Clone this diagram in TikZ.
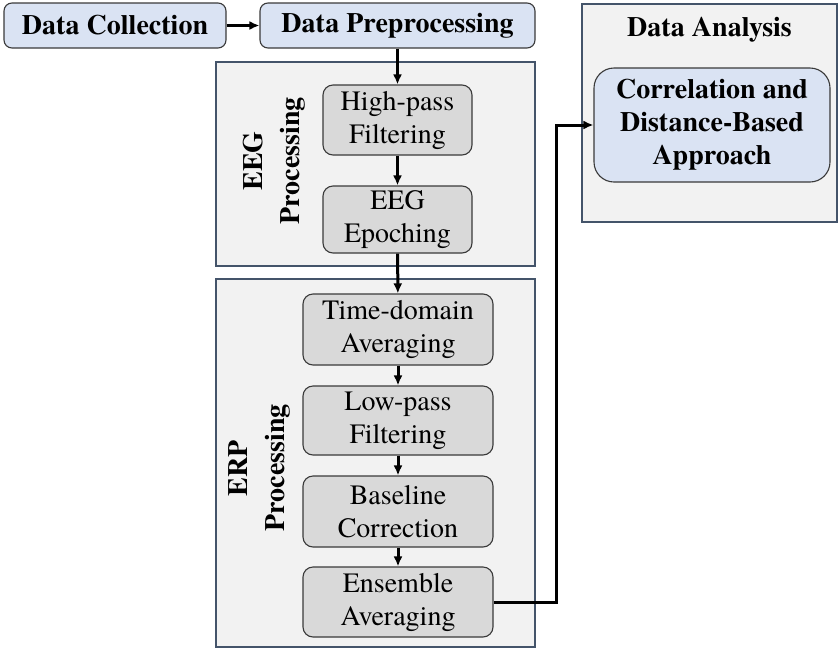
\documentclass[tikz,border=0pt]{standalone}
\usepackage{fontspec}
\setmainfont{TeX Gyre Termes}
\usetikzlibrary{arrows.meta}

\definecolor{boxblue}{HTML}{DAE3F3}
\definecolor{boxgray}{HTML}{D9D9D9}
\definecolor{panelgray}{HTML}{F2F2F2}
\definecolor{panelline}{HTML}{44546A}
\definecolor{boxline}{HTML}{3A3A3A}

\begin{document}
\begin{tikzpicture}[x=1pt, y=-1pt,
    every node/.style={font=\fontsize{28}{33}\selectfont, align=center, inner sep=0pt},
    bluebox/.style={draw=boxline, line width=1.1pt, fill=boxblue, rounded corners=8pt, font=\fontsize{28}{33}\selectfont\bfseries},
    graybox/.style={draw=boxline, line width=1.1pt, fill=boxgray, rounded corners=10pt, minimum height=70pt},
    panel/.style={draw=panelline, line width=1.2pt, fill=panelgray},
    sidelabel/.style={rotate=90, font=\fontsize{28}{37}\selectfont\bfseries},
    flow/.style={-{Latex[length=10pt,width=9pt]}, line width=3pt}]
    \useasboundingbox (0,0) rectangle (839,649);

    % Paneles de fondo
    \node[panel, minimum width=319pt, minimum height=204pt] (eegpanel) at (375.5,164) {};
    \node[panel, minimum width=319pt, minimum height=368pt] (erppanel) at (375.5,463) {};
    \node[panel, minimum width=255pt, minimum height=218pt] (dapanel) at (709.5,113) {};

    % Etapas superiores
    \node[bluebox, minimum width=222pt, minimum height=45pt] (collect) at (115,25.5) {Data Collection};
    \node[bluebox, minimum width=275pt, minimum height=45pt] (preproc) at (397.5,25.5) {Data Preprocessing};

    % Procesamiento EEG
    \node[sidelabel] (eeglabel) at (274,161) {EEG\\Processing};
    \node[graybox, minimum width=149pt] (highpass) at (397.5,120) {High-pass\\Filtering};
    \node[graybox, minimum width=149pt, minimum height=67pt] (epoch) at (397.5,219.5) {EEG\\Epoching};

    % Procesamiento ERP
    \node[sidelabel] (erplabel) at (259,468) {ERP\\Processing};
    \node[graybox, minimum width=190pt, minimum height=71pt] (timeavg) at (398,329.5) {Time-domain\\Averaging};
    \node[graybox, minimum width=190pt, minimum height=69pt] (lowpass) at (398,420.5) {Low-pass\\Filtering};
    \node[graybox, minimum width=190pt, minimum height=71pt] (baseline) at (398,511.5) {Baseline\\Correction};
    \node[graybox, minimum width=190pt] (ensemble) at (398,602) {Ensemble\\Averaging};

    % Análisis de datos
    \node[font=\fontsize{28}{33}\selectfont\bfseries] (datitle) at (709.5,30) {Data Analysis};
    \node[bluebox, rounded corners=20pt, minimum width=236pt, minimum height=114pt] (corr) at (712,125) {Correlation and\\Distance-Based\\Approach};

    % Flechas
    \draw[flow] (collect) -- (preproc);
    \draw[flow] (preproc.south) -- (highpass.north);
    \draw[flow] (highpass) -- (epoch);
    \draw[flow] (epoch) -- (timeavg);
    \draw[flow] (timeavg) -- (lowpass);
    \draw[flow] (lowpass) -- (baseline);
    \draw[flow] (baseline) -- (ensemble);
    \coordinate (turn) at (556,602);
    \draw[flow] (ensemble.east) -- (turn) |- (corr.west);

\end{tikzpicture}
\end{document}
